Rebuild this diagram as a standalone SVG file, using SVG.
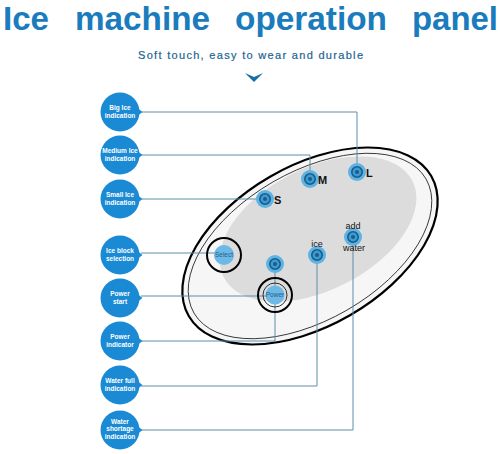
<svg xmlns="http://www.w3.org/2000/svg" width="500" height="454" viewBox="0 0 500 454">
<defs>
<style>
.title{font-family:"Liberation Sans",Arial,sans-serif;font-weight:bold;font-size:34px;fill:#1a7bbd}
.sub{font-family:"Liberation Sans",Arial,sans-serif;font-size:11px;fill:#1a6592;stroke:#1a6592;stroke-width:0.2}
.lbl{font-family:"Liberation Sans",Arial,sans-serif;font-weight:bold;font-size:6.5px;fill:#ffffff;text-anchor:middle}
.bl{font-family:"Liberation Sans",Arial,sans-serif;font-weight:bold;font-size:11px;fill:#111}
.sm{font-family:"Liberation Sans",Arial,sans-serif;font-size:9px;fill:#111;text-anchor:middle}
.tiny{font-family:"Liberation Sans",Arial,sans-serif;font-size:6.5px;fill:#2a5f85;text-anchor:middle}
.circ{fill:#1a8ad4}
.conn{fill:none;stroke:#5b8ea8;stroke-width:1}
</style>
<g id="btn">
<circle r="9" fill="#5cb3e4"/>
<circle r="5.2" fill="#3d9bd3" stroke="#1b5c86" stroke-width="1.6"/>
<circle r="2" fill="#1b5c86"/>
</g>
<g id="bub">
<circle r="19.5" class="circ"/>
<path d="M18,-3.5 L22.5,0 L18,3.5 Z" class="circ"/>
</g>
</defs>
<rect width="500" height="454" fill="#ffffff"/>

<g id="title">
<text class="title" x="3" y="30" textLength="46" lengthAdjust="spacingAndGlyphs">Ice</text>
<text class="title" x="75" y="30" textLength="135" lengthAdjust="spacingAndGlyphs">machine</text>
<text class="title" x="235" y="30" textLength="152" lengthAdjust="spacingAndGlyphs">operation</text>
<text class="title" x="412" y="30" textLength="86" lengthAdjust="spacingAndGlyphs">panel</text>
<text class="sub" x="138" y="59" textLength="225" lengthAdjust="spacing">Soft touch, easy to wear and durable</text>
<path d="M245,73 L254,77 L263,73 L254,82 Z" fill="#1a6fa8"/>
</g>

<g id="panel">
<ellipse cx="310" cy="246" rx="140" ry="80" transform="rotate(-30 310 246)" fill="#f6f6f6" stroke="#000" stroke-width="2.2"/>
<ellipse cx="310" cy="246" rx="134" ry="74" transform="rotate(-30 310 246)" fill="none" stroke="#222" stroke-width="0.8"/>
<ellipse cx="318" cy="229" rx="106" ry="61" transform="rotate(-27 318 229)" fill="#dcdcdc"/>
</g>

<g id="connectors">
<polyline class="conn" points="141,112 357,112 357,172"/>
<polyline class="conn" points="141,155 310,155 310,179"/>
<polyline class="conn" points="141,199 265,199"/>
<polyline class="conn" points="141,253 224,253"/>
<polyline class="conn" points="141,296 275,296"/>
<polyline class="conn" points="141,341 275,341 275,264"/>
<polyline class="conn" points="141,386 317,386 317,255"/>
<polyline class="conn" points="141,430 353,430 353,237"/>
</g>

<g id="btn-L"><use href="#btn" x="357" y="172"/><text class="bl" x="366" y="177">L</text></g>
<g id="btn-M"><use href="#btn" x="310" y="179"/><text class="bl" x="318" y="184">M</text></g>
<g id="btn-S"><use href="#btn" x="265" y="199"/><text class="bl" x="274" y="204">S</text></g>
<g id="btn-addwater"><use href="#btn" x="353" y="237"/><text class="sm" x="353" y="229">add</text><text class="sm" x="354" y="251">water</text></g>
<g id="btn-ice"><use href="#btn" x="317" y="255"/><text class="sm" x="317" y="247">ice</text></g>
<g id="btn-indicator"><use href="#btn" x="275" y="264"/></g>
<g id="btn-select">
<circle cx="224" cy="255" r="17" fill="none" stroke="#000" stroke-width="2"/>
<circle cx="224" cy="255" r="10" fill="#6cb8e6"/>
<text class="tiny" x="224" y="257">Select</text>
</g>
<g id="btn-power">
<circle cx="275" cy="295" r="17" fill="none" stroke="#000" stroke-width="2"/>
<circle cx="275" cy="295" r="12" fill="none" stroke="#000" stroke-width="0.8"/>
<circle cx="275" cy="295" r="9.5" fill="#6cb8e6"/>
<text class="tiny" x="275" y="297">Power</text>
</g>

<g id="n-big"><use href="#bub" x="120" y="112"/><text class="lbl" x="120" y="110">Big  Ice</text><text class="lbl" x="120" y="117.5">indication</text></g>
<g id="n-medium"><use href="#bub" x="120" y="155"/><text class="lbl" x="120" y="153">Medium  Ice</text><text class="lbl" x="120" y="160.5">indication</text></g>
<g id="n-small"><use href="#bub" x="120" y="199"/><text class="lbl" x="120" y="197">Small  Ice</text><text class="lbl" x="120" y="204.5">indication</text></g>
<g id="n-iceblock"><use href="#bub" x="120" y="255"/><text class="lbl" x="120" y="253">Ice  block</text><text class="lbl" x="120" y="260.5">selection</text></g>
<g id="n-powerstart"><use href="#bub" x="120" y="298"/><text class="lbl" x="120" y="296">Power</text><text class="lbl" x="120" y="303.5">start</text></g>
<g id="n-powerind"><use href="#bub" x="120" y="341"/><text class="lbl" x="120" y="339">Power</text><text class="lbl" x="120" y="346.5">indicator</text></g>
<g id="n-waterfull"><use href="#bub" x="120" y="385"/><text class="lbl" x="120" y="383">Water  full</text><text class="lbl" x="120" y="390.5">indication</text></g>
<g id="n-watershort"><use href="#bub" x="120" y="430"/><text class="lbl" x="120" y="423.5">Water</text><text class="lbl" x="120" y="431">shortage</text><text class="lbl" x="120" y="438.5">indication</text></g>
</svg>
